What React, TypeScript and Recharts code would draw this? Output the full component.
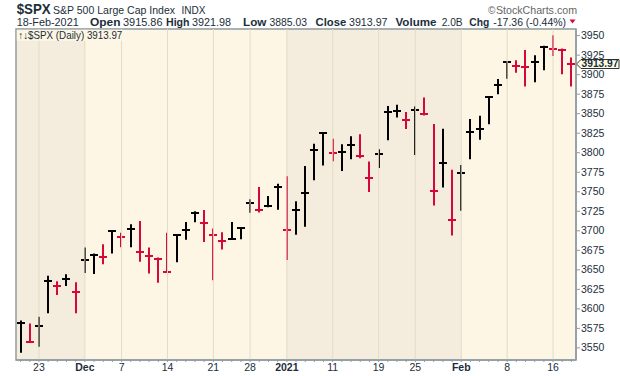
import React from "react";
import {
  ComposedChart,
  Bar,
  XAxis,
  YAxis,
  CartesianGrid,
  ReferenceArea,
  ReferenceLine,
} from "recharts";

// trading days shown, 19-Nov-2020 .. 18-Feb-2021
const dates = [
  "2020-11-19", "2020-11-20", "2020-11-23", "2020-11-24", "2020-11-25", "2020-11-27", "2020-11-30",
  "2020-12-01", "2020-12-02", "2020-12-03", "2020-12-04", "2020-12-07", "2020-12-08", "2020-12-09",
  "2020-12-10", "2020-12-11", "2020-12-14", "2020-12-15", "2020-12-16", "2020-12-17", "2020-12-18",
  "2020-12-21", "2020-12-22", "2020-12-23", "2020-12-24", "2020-12-28", "2020-12-29", "2020-12-30",
  "2020-12-31", "2021-01-04", "2021-01-05", "2021-01-06", "2021-01-07", "2021-01-08", "2021-01-11",
  "2021-01-12", "2021-01-13", "2021-01-14", "2021-01-15", "2021-01-19", "2021-01-20", "2021-01-21",
  "2021-01-22", "2021-01-25", "2021-01-26", "2021-01-27", "2021-01-28", "2021-01-29", "2021-02-01",
  "2021-02-02", "2021-02-03", "2021-02-04", "2021-02-05", "2021-02-08", "2021-02-09", "2021-02-10",
  "2021-02-11", "2021-02-12", "2021-02-16", "2021-02-17", "2021-02-18",
];
const highs = [
  3585.2, 3581.2, 3589.8, 3642.3, 3635.5, 3644.3, 3634.2,
  3678.5, 3670.9, 3682.7, 3699.2, 3697.4, 3708.4, 3712.4,
  3678.5, 3665.9, 3697.6, 3695.3, 3711.3, 3725.1, 3726.7,
  3702.9, 3698.3, 3711.2, 3703.8, 3740.5, 3756.1, 3744.6,
  3760.2, 3770.0, 3737.8, 3783.0, 3811.6, 3826.7, 3817.9,
  3810.8, 3821.0, 3823.6, 3788.7, 3804.5, 3859.8, 3861.5,
  3852.3, 3859.2, 3870.9, 3836.8, 3830.8, 3778.1, 3784.3,
  3843.1, 3847.5, 3872.4, 3894.6, 3915.8, 3918.4, 3931.5,
  3925.0, 3937.2, 3950.4, 3933.6, 3922.0,
];
const lows = [
  3543.8, 3556.9, 3551.5, 3594.5, 3617.8, 3629.3, 3594.4,
  3645.9, 3644.8, 3657.2, 3670.9, 3678.9, 3678.8, 3660.5,
  3645.2, 3633.4, 3645.8, 3659.6, 3688.6, 3710.9, 3685.8,
  3636.5, 3676.2, 3689.3, 3689.3, 3723.0, 3723.3, 3730.2,
  3726.9, 3662.7, 3695.1, 3705.3, 3764.7, 3783.6, 3789.0,
  3776.5, 3791.5, 3792.9, 3749.7, 3780.4, 3816.1, 3845.1,
  3830.4, 3797.2, 3847.8, 3732.5, 3755.6, 3694.1, 3725.6,
  3791.8, 3816.7, 3836.5, 3874.9, 3894.9, 3902.6, 3884.9,
  3890.4, 3905.8, 3923.9, 3900.4, 3885.0,
];
const closes = [
  3581.87, 3557.54, 3577.59, 3635.41, 3629.65, 3638.35, 3621.63,
  3662.45, 3669.01, 3666.72, 3699.12, 3691.96, 3702.25, 3672.82,
  3668.10, 3663.46, 3647.49, 3694.62, 3701.17, 3722.48, 3709.41,
  3694.92, 3687.26, 3690.01, 3703.06, 3735.36, 3727.04, 3732.04,
  3756.07, 3700.65, 3726.86, 3748.14, 3803.79, 3824.68, 3799.61,
  3801.19, 3809.84, 3795.54, 3768.25, 3798.91, 3851.85, 3853.07,
  3841.47, 3855.36, 3849.62, 3750.77, 3787.38, 3714.24, 3773.86,
  3826.31, 3830.17, 3871.74, 3886.83, 3915.59, 3911.23, 3909.88,
  3916.38, 3934.83, 3932.59, 3931.33, 3913.97,
];
const prevClose = 3567.79; // 18-Nov close, colours the first bar

const tickDays = [
  "2020-11-23", "2020-12-01", "2020-12-07", "2020-12-14", "2020-12-21", "2020-12-28", "2021-01-04",
  "2021-01-11", "2021-01-19", "2021-01-25", "2021-02-01", "2021-02-08", "2021-02-16",
];
const tickLabels = ["23", "Dec", "7", "14", "21", "28", "2021", "11", "19", "25", "Feb", "8", "16"];
const boldLabels = ["Dec", "2021", "Feb"];
const priceTicks = [
  3550, 3575, 3600, 3625, 3650, 3675, 3700, 3725, 3750, 3775, 3800, 3825, 3850, 3875, 3900, 3925, 3950,
];

// darker background for alternate months
const shadeStart = ["2020-11-19", "2021-01-04"];
const shadeEnd = ["2020-12-01", "2021-02-01"];

const quoteDate = "18-Feb-2021";
const quoteOpen = "3915.86";
const quoteHigh = "3921.98";
const quoteLow = "3885.03";
const quoteClose = "3913.97";
const quoteVolume = "2.0B";
const quoteChg = "-17.36 (-0.44%)";
const lastPrice = 3913.97;

const RED = "#D6083B";
const AXIS = "#8E9CA3";
const TEXT = "#1C2E39";
const GRID = "#E4DBC8";
const LIGHT = "#FDF6E4";
const DARK = "#F4EDDD";
const FONT = "'Liberation Sans', Arial, sans-serif";

const X_MIN = -0.5;
const X_MAX = dates.length - 0.5;

const data = dates.map((d, i) => ({
  date: d,
  i,
  high: highs[i],
  low: lows[i],
  close: closes[i],
  up: closes[i] >= (i === 0 ? prevClose : closes[i - 1]),
}));

function HLCBar(props: any) {
  const { x, y, width, height, payload } = props;
  const cx = Math.round(x + width / 2);
  const top = Math.min(y, y + height);
  const bot = Math.max(y, y + height);
  const cy = Math.round(top + ((payload.high - payload.close) / (payload.high - payload.low)) * (bot - top));
  const color = payload.up ? "#000" : RED;
  return (
    <g>
      <line x1={cx} x2={cx} y1={top} y2={bot} stroke={color} strokeWidth={2} />
      <line x1={cx - 4} x2={cx + 4} y1={cy} y2={cy} stroke={color} strokeWidth={2} />
    </g>
  );
}

function DateTick(props: any) {
  const { x, y, payload } = props;
  const k = tickDays.indexOf(payload.value);
  return (
    <g>
      <line x1={x} x2={x} y1={y} y2={y + 2} stroke={AXIS} />
      {k >= 0 && (
        <text
          x={x}
          y={y + 11}
          textAnchor="middle"
          fontSize={10.5}
          fontFamily={FONT}
          fontWeight={boldLabels.includes(tickLabels[k]) ? 700 : 400}
          fill={TEXT}
        >
          {tickLabels[k]}
        </text>
      )}
    </g>
  );
}

function PriceTick(props: any) {
  const { x, y, payload } = props;
  return (
    <g>
      <line x1={x} x2={x + 4} y1={y} y2={y} stroke={AXIS} />
      <text x={x + 5} y={y} dy={3.6} fontSize={10.5} fontFamily={FONT} fill={TEXT}>
        {payload.value}
      </text>
    </g>
  );
}

function PriceTag(props: any) {
  const vb = props.viewBox || {};
  const x = vb.x + vb.width;
  const y = Math.round(vb.y);
  return (
    <g>
      <path
        d={`M${x + 0.5},${y} L${x + 5},${y - 4.5} L${x + 43},${y - 4.5} L${x + 43},${y + 4.5} L${x + 5},${y + 4.5} Z`}
        fill="#FFFDE6"
        stroke="#333"
        strokeWidth={1}
      />
      <text
        x={x + 24}
        y={y}
        dy={3.4}
        textAnchor="middle"
        fontSize={10}
        fontWeight={700}
        fontFamily={FONT}
        fill={TEXT}
        textLength={37}
        lengthAdjust="spacingAndGlyphs"
      >
        {lastPrice.toFixed(2)}
      </text>
    </g>
  );
}

function Header() {
  const t = (x: number, y: number, s: string, size: number, bold: boolean, w?: number, fill = TEXT) => (
    <text
      x={x}
      y={y}
      fontSize={size}
      fontWeight={bold ? 700 : 400}
      fontFamily={FONT}
      fill={fill}
      textLength={w}
      lengthAdjust={w ? "spacingAndGlyphs" : undefined}
    >
      {s}
    </text>
  );
  return (
    <svg width={620} height={376} style={{ position: "absolute", left: 0, top: 0, pointerEvents: "none" }}>
      {t(16.7, 14.3, "$SPX", 15.5, true, 34)}
      {t(53, 14.3, "S&P 500 Large Cap Index", 11, false, 122)}
      {t(181.5, 14.3, "INDX", 10.5, false, 24)}
      {t(488, 14.3, "©", 10, false, undefined, "#666")}
      {t(496, 14.3, "StockCharts.com", 11.5, false, 81, "#666")}
      {t(16.7, 26.3, quoteDate, 10.5, false, 62)}
      {t(90, 26.3, "Open", 11, true, 30.5)}
      {t(123, 26.3, quoteOpen, 10.5, false, 39.5)}
      {t(166, 26.3, "High", 11, true, 23.5)}
      {t(192, 26.3, quoteHigh, 10.5, false, 39)}
      {t(243, 26.3, "Low", 11, true, 23.4)}
      {t(269.5, 26.3, quoteLow, 10.5, false, 37.5)}
      {t(315.5, 26.3, "Close", 11, true, 30.7)}
      {t(349, 26.3, quoteClose, 10.5, false, 38.5)}
      {t(395.5, 26.3, "Volume", 11, true, 41)}
      {t(441.7, 26.3, quoteVolume, 10.5, false, 21)}
      {t(469.3, 26.3, "Chg", 11, true, 20)}
      {t(493.3, 26.3, quoteChg, 10.5, false, 72.7)}
      <path d="M569.5,19.5 L575.5,19.5 L572.5,23.5 Z" fill={RED} />
      <rect x={16.8} y={29.8} width={106} height={11} fill={LIGHT} />
      {t(18.3, 38.5, `↑↓$SPX (Daily) ${quoteClose}`, 10.5, false, 104)}
    </svg>
  );
}

export default function App() {
  return (
    <div style={{ position: "absolute", left: 0, top: 0, width: 620, height: 376, background: "#fff" }}>
      <ComposedChart
        width={620}
        height={376}
        data={data}
        margin={{ top: 29, right: 0, left: 16, bottom: 0 }}
        barCategoryGap={0}
      >
        <XAxis
          xAxisId="c"
          dataKey="date"
          interval={0}
          height={16}
          tickSize={0}
          tickMargin={0}
          tickLine={false}
          tick={<DateTick />}
          axisLine={{ stroke: AXIS, strokeWidth: 1.5 }}
        />
        <XAxis xAxisId="n" type="number" dataKey="i" domain={[X_MIN, X_MAX]} allowDataOverflow hide />
        <YAxis
          orientation="right"
          width={44}
          domain={[3534.5, 3958.5]}
          ticks={priceTicks}
          allowDataOverflow
          interval={0}
          tickSize={0}
          tickMargin={0}
          tickLine={false}
          tick={<PriceTick />}
          axisLine={{ stroke: AXIS, strokeWidth: 1.5 }}
        />
        <ReferenceArea xAxisId="n" x1={X_MIN} x2={X_MAX} fill={LIGHT} fillOpacity={1} />
        {shadeStart.map((s, k) => {
          const a = dates.indexOf(s);
          return (
            <ReferenceArea
              key={s}
              xAxisId="n"
              x1={a === 0 ? X_MIN : a}
              x2={dates.indexOf(shadeEnd[k])}
              fill={DARK}
              fillOpacity={1}
            />
          );
        })}
        <CartesianGrid xAxisId="c" vertical={false} stroke={GRID} strokeDasharray="" />
        {tickDays.map((d) => (
          <ReferenceLine key={d} xAxisId="n" x={dates.indexOf(d)} stroke={GRID} />
        ))}
        <ReferenceArea xAxisId="n" x1={X_MIN} x2={X_MAX} fill="none" stroke={AXIS} strokeWidth={1.5} />
        <Bar
          xAxisId="c"
          dataKey={(d: any) => [d.low, d.high]}
          shape={<HLCBar />}
          isAnimationActive={false}
        />
        <ReferenceLine xAxisId="n" y={lastPrice} stroke="none" label={<PriceTag />} />
      </ComposedChart>
      <Header />
    </div>
  );
}
